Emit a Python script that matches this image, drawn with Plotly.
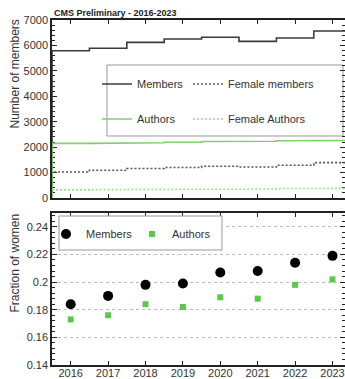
import numpy as np
import plotly.graph_objects as go

years = [2016, 2017, 2018, 2019, 2020, 2021, 2022, 2023]
members = [5790, 5890, 6120, 6250, 6320, 6160, 6290, 6570]
authors = [2150, 2150, 2170, 2190, 2220, 2230, 2250, 2260]
female_members = [1020, 1090, 1160, 1200, 1250, 1220, 1290, 1390]
female_authors = [320, 330, 340, 340, 350, 350, 370, 380]
frac_members = [0.184, 0.190, 0.198, 0.199, 0.207, 0.208, 0.214, 0.219]
frac_authors = [0.173, 0.176, 0.184, 0.182, 0.189, 0.188, 0.198, 0.202]

FONT = "Liberation Sans"
DARK = "#333333"
GREEN_LINE = "#7fcf6f"
GREEN_DOT = "#9fe08f"
GREEN_MK = "#5cc84a"


def steps(vals):
    y = np.array(years, dtype=float)
    lo, hi = y - 0.5, y + 0.5
    xs, ys = [lo[0]], [0]
    for l, h, v in zip(lo, hi, vals):
        xs += [l, h]
        ys += [v, v]
    xs.append(hi[-1])
    ys.append(0)
    return xs, ys


fig = go.Figure()

# layout geometry
L, R, T, B = 52, 0, 20, 14
W, H = 345, 379
PH = H - T - B
PW = W - L - R
top_dom = [(H - B - 198) / PH, 1.0]
bot_dom = [0.0, (H - B - 213) / PH]


def px_x(p):
    return (p - L) / PW


def px_y(p):
    return (H - B - p) / PH


for name, vals, color, dash, lg in [
    ("Members", members, "#3a3a3a", "solid", "legend"),
    ("Female members", female_members, "#555555", "2px,2px", "legend2"),
    ("Authors", authors, GREEN_LINE, "solid", "legend3"),
    ("Female Authors", female_authors, GREEN_DOT, "2px,2px", "legend4"),
]:
    xs, ys = steps(vals)
    fig.add_trace(go.Scatter(x=xs, y=ys, mode="lines", name=name,
                             line=dict(color=color, width=1.6, dash=dash),
                             xaxis="x", yaxis="y", legend=lg))

fig.add_trace(go.Scatter(x=years, y=frac_members, mode="markers", name="Members",
                         marker=dict(color="black", size=10, symbol="circle"),
                         xaxis="x2", yaxis="y2", legend="legend5"))
fig.add_trace(go.Scatter(x=years, y=frac_authors, mode="markers", name="Authors",
                         marker=dict(color=GREEN_MK, size=6, symbol="square"),
                         xaxis="x2", yaxis="y2", legend="legend6"))

xr = [2015.5, 2015.5 + PW / 37.4]
axis_common = dict(showline=True, linecolor="#222", linewidth=1.5, mirror="ticks",
                   ticks="inside", tickcolor="#222", zeroline=False, automargin=False,
                   tickfont=dict(family=FONT, size=11, color=DARK))

leg_common = dict(orientation="h", xanchor="left", yanchor="middle",
                  bgcolor="rgba(0,0,0,0)", borderwidth=0, itemwidth=30,
                  font=dict(family=FONT, size=11, color=DARK))

fig.update_layout(
    width=W, height=H,
    margin=dict(l=L, r=R, t=T, b=B),
    paper_bgcolor="white", plot_bgcolor="white",
    font=dict(family=FONT, color=DARK),
    xaxis=dict(domain=[0, 1], range=xr, anchor="y", tickvals=years,
               showticklabels=False, ticklen=4, showgrid=False, layer="below traces",
               **axis_common),
    yaxis=dict(domain=top_dom, range=[0, 7000], anchor="x", dtick=1000,
               ticklen=5, showgrid=False, layer="below traces",
               minor=dict(ticks="inside", ticklen=3, dtick=200, tickcolor="#222"),
               **axis_common),
    xaxis2=dict(domain=[0, 1], range=xr, anchor="y2", tickvals=years,
                ticktext=[str(y) for y in years], ticklen=4, showgrid=False,
                ticklabelstandoff=-3,
                **axis_common),
    yaxis2=dict(domain=bot_dom, range=[0.14, 0.25], anchor="x2",
                tickvals=[0.14, 0.16, 0.18, 0.2, 0.22, 0.24],
                ticktext=["0.14", "0.16", "0.18", "0.2", "0.22", "0.24"],
                ticklen=5, showgrid=True, gridcolor="#bbbbbb", griddash="dot", gridwidth=1,
                minor=dict(ticks="inside", ticklen=3, dtick=0.004, tickcolor="#222", showgrid=False),
                **axis_common),
    legend=dict(x=px_x(97), y=px_y(84), **leg_common),
    legend2=dict(x=px_x(188), y=px_y(84), **leg_common),
    legend3=dict(x=px_x(97), y=px_y(119), **leg_common),
    legend4=dict(x=px_x(188), y=px_y(119), **leg_common),
    legend5=dict(x=px_x(46), y=px_y(234), **leg_common),
    legend6=dict(x=px_x(132), y=px_y(234), **leg_common),
    showlegend=True,
    shapes=[
        dict(type="rect", xref="paper", yref="paper",
             x0=px_x(107), x1=px_x(343), y0=px_y(136), y1=px_y(65),
             line=dict(color="#999999", width=1), fillcolor="white", layer="below"),
        dict(type="rect", xref="paper", yref="paper",
             x0=px_x(59), x1=px_x(222), y0=px_y(250), y1=px_y(216),
             line=dict(color="#999999", width=1), fillcolor="white", layer="above"),
    ],
    annotations=[
        dict(text="<b>CMS Preliminary - 2016-2023</b>", xref="paper", yref="paper",
             x=0, y=1, xanchor="left", yanchor="bottom", yshift=0, showarrow=False,
             font=dict(family=FONT, size=9, color="#222")),
        dict(text="Number of members", xref="paper", yref="paper", textangle=-90,
             x=px_x(14), y=px_y(18), xanchor="center", yanchor="top", showarrow=False,
             font=dict(family=FONT, size=12, color=DARK)),
        dict(text="Fraction of women", xref="paper", yref="paper", textangle=-90,
             x=px_x(14), y=px_y(212), xanchor="center", yanchor="top", showarrow=False,
             font=dict(family=FONT, size=12, color=DARK)),
    ],
)

fig.write_html("out.html")
